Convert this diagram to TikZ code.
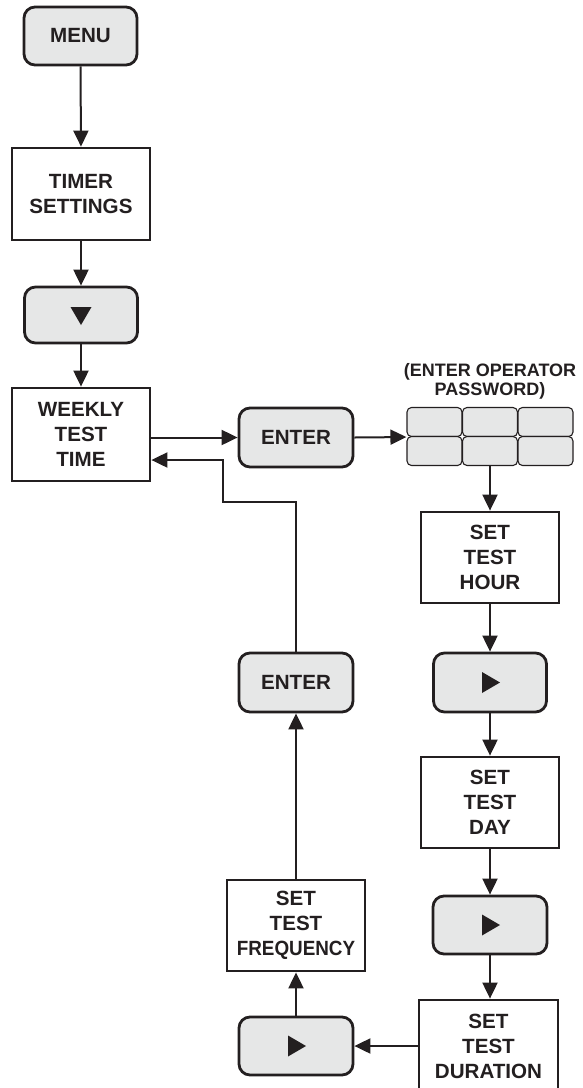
\documentclass[tikz,border=0pt]{standalone}
\usepackage{fontspec}
\setmainfont{Liberation Sans}
\usetikzlibrary{arrows.meta}
\definecolor{ink}{HTML}{231F20}
\definecolor{keygray}{HTML}{E6E7E7}
\begin{document}
\begin{tikzpicture}[x=1pt,y=-1pt,
  every node/.style={font=\bfseries\fontsize{20.6}{25}\selectfont, text=ink, align=center, inner sep=0pt},
  stepbox/.style={draw=ink, line width=2.8pt, fill=white, minimum width=138pt, minimum height=92pt},
  keybtn/.style={draw=ink, line width=2.8pt, fill=keygray, rounded corners=11pt, minimum width=113pt, minimum height=58pt},
  padkey/.style={draw=ink, line width=1.1pt, fill=keygray, rounded corners=4.5pt, minimum width=55pt, minimum height=29pt},
  flow/.style={draw=ink, line width=2pt, -{Triangle[length=16pt,width=15pt]}},
  glyph/.style={fill=ink}]
\useasboundingbox (0,0) rectangle (582,1088);
\begin{scope}
\clip (0,0) rectangle (582,1088);

% left column
\node[keybtn] (menu) at (80.5,36) {MENU};
\node[stepbox] (timer) at (81,194) {TIMER\\SETTINGS};
\node[keybtn, minimum height=56pt] (down) at (81,315) {};
\node[stepbox, minimum height=93pt] (weekly) at (81,434.5) {WEEKLY\\TEST\\TIME};

% enter button and password keypad
\node[keybtn, minimum width=114pt, minimum height=59pt] (enterA) at (296,437.5) {ENTER};
\node[font=\bfseries\fontsize{18}{19}\selectfont] (pwlabel) at (490,381) {(ENTER OPERATOR\\PASSWORD)};
\node[padkey] (k11) at (434.5,422) {};
\node[padkey] (k12) at (490,422) {};
\node[padkey] (k13) at (545.5,422) {};
\node[padkey] (k21) at (434.5,451) {};
\node[padkey] (k22) at (490,451) {};
\node[padkey] (k23) at (545.5,451) {};

% right column
\node[stepbox, minimum height=91pt] (hour) at (490,557.5) {SET\\TEST\\HOUR};
\node[keybtn, minimum height=59pt] (rightA) at (490,682.5) {};
\node[stepbox, minimum height=91pt] (day) at (490,802.5) {SET\\TEST\\DAY};
\node[keybtn, minimum width=114pt] (rightB) at (490,925) {};
\node[stepbox, minimum width=139pt] (duration) at (488.5,1046) {SET\\TEST\\DURATION};

% middle column
\node[keybtn, minimum width=114pt] (rightC) at (296,1046) {};
\node[stepbox, minimum height=91pt] (freq) at (296,925.5) {SET\\TEST\\\scalebox{0.915}[1]{FREQUENCY}};
\node[keybtn, minimum width=114pt, minimum height=59pt] (enterB) at (296,682.5) {ENTER};

% button glyphs
\fill[glyph] (down.center) ++(-10.5,-8) -- ++(21,0) -- ++(-10.5,18) -- cycle;
\foreach \b in {rightA,rightB,rightC}
  \fill[glyph] (\b.center) ++(-8,-10.5) -- ++(18,10.5) -- ++(-18,10.5) -- cycle;

% connectors
\draw[flow] (menu.south) -- (timer.north);
\draw[flow] (timer.south) -- (down.north);
\draw[flow] (down.south) -- (weekly.north);
\draw[flow] (enterA.west -| weekly.east) -- (enterA.west);
\draw[flow] (enterA.east) -- (k11.south west);
\draw[flow] (k22.south) -- (hour.north);
\draw[flow] (hour.south) -- (rightA.north);
\draw[flow] (rightA.south) -- (day.north);
\draw[flow] (day.south) -- (rightB.north);
\draw[flow] (rightB.south) -- (duration.north -| rightB.south);
\draw[flow] (duration.west |- rightC.east) -- (rightC.east);
\draw[flow] (rightC.north) -- (freq.south);
\draw[flow] (freq.north) -- (enterB.south);
\coordinate (loopA) at (296,502);
\coordinate (loopB) at (223,502);
\coordinate (loopC) at (223,460);
\draw[flow] (enterB.north) -- (loopA) -- (loopB) -- (loopC) -- (loopC -| weekly.east);
\end{scope}
\end{tikzpicture}
\end{document}
